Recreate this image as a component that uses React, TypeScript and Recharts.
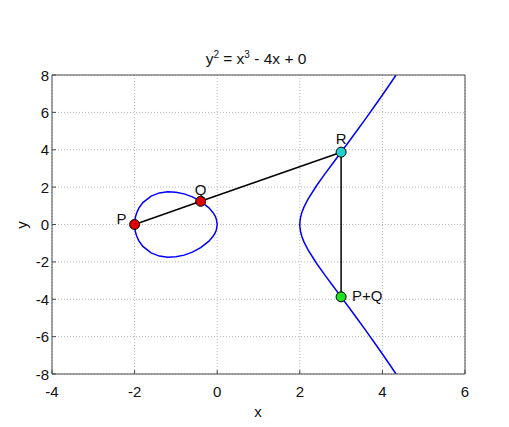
import React from 'react';
import {
  ComposedChart,
  Line,
  Scatter,
  XAxis,
  YAxis,
  CartesianGrid,
} from 'recharts';

// values
const xTicks = [-4, -2, 0, 2, 4, 6];
const yTicks = [-8, -6, -4, -2, 0, 2, 4, 6, 8];

// closed oval between x = -2 and x = 0 (upper half, then lower half back)
const ovalX = [-2, -1.99, -1.98, -1.95, -1.9, -1.8, -1.6, -1.4, -1.2, -1.0, -0.8, -0.6, -0.4, -0.2, -0.1, -0.05, -0.02, 0,
  -0.02, -0.05, -0.1, -0.2, -0.4, -0.6, -0.8, -1.0, -1.2, -1.4, -1.6, -1.8, -1.9, -1.95, -1.98, -1.99, -2];
const ovalY = [0, 0.28, 0.4, 0.62, 0.86, 1.17, 1.52, 1.69, 1.75, 1.73, 1.64, 1.48, 1.24, 0.89, 0.63, 0.45, 0.28, 0,
  -0.28, -0.45, -0.63, -0.89, -1.24, -1.48, -1.64, -1.73, -1.75, -1.69, -1.52, -1.17, -0.86, -0.62, -0.4, -0.28, 0];

// open branch starting at x = 2
const branchX = [4.33, 4.2, 4.0, 3.8, 3.6, 3.4, 3.2, 3.0, 2.8, 2.6, 2.4, 2.2, 2.1, 2.05, 2.02, 2.005, 2.0,
  2.005, 2.02, 2.05, 2.1, 2.2, 2.4, 2.6, 2.8, 3.0, 3.2, 3.4, 3.6, 3.8, 4.0, 4.2, 4.33];
const branchY = [-8, -7.57, -6.93, -6.3, -5.68, -5.07, -4.47, -3.87, -3.28, -2.68, -2.06, -1.36, -0.93, -0.64, -0.4, -0.2, 0,
  0.2, 0.4, 0.64, 0.93, 1.36, 2.06, 2.68, 3.28, 3.87, 4.47, 5.07, 5.68, 6.3, 6.93, 7.57, 8];

// secant through P and Q, then the reflection from R to P+Q
const chordX = [-2, -0.4, 3];
const chordY = [0, 1.24, 3.87];
const reflectX = [3, 3];
const reflectY = [3.87, -3.87];

const pointNames = ['P', 'Q', 'R', 'P+Q'];
const pointX = [-2, -0.4, 3, 3];
const pointY = [0, 1.24, 3.87, -3.87];

const toRows = (xs: number[], ys: number[]) => xs.map((x, i) => ({ x, y: ys[i] }));

const ovalData = toRows(ovalX, ovalY);
const branchData = toRows(branchX, branchY);
const chordData = toRows(chordX, chordY);
const reflectData = toRows(reflectX, reflectY);
const pointData = pointNames.map((name, i) => ({ name, x: pointX[i], y: pointY[i] }));

const FONT = '"Liberation Sans", Arial, Helvetica, sans-serif';
const AXIS_COLOR = '#4a4a4a';
const TICK_LEN = 4;

// marker fill and label placement per point
const markerStyle: Record<string, { fill: string; dx: number; dy: number; anchor: 'start' | 'middle' | 'end' }> = {
  P: { fill: '#e00000', dx: -8, dy: -6, anchor: 'end' },
  Q: { fill: '#e00000', dx: 0, dy: -12, anchor: 'middle' },
  R: { fill: '#20d0d0', dx: 0, dy: -14, anchor: 'middle' },
  'P+Q': { fill: '#20e020', dx: 11, dy: -1, anchor: 'start' },
};

function PointMarker(props: any) {
  const { cx, cy, payload } = props;
  const s = markerStyle[payload.name];
  return (
    <g>
      <circle cx={cx} cy={cy} r={5} fill={s.fill} stroke="#000" strokeWidth={1} />
      <text
        x={cx + s.dx}
        y={cy + s.dy}
        textAnchor={s.anchor}
        dominantBaseline="central"
        fontSize={15}
        fontFamily={FONT}
        fill="#111"
      >
        {payload.name}
      </text>
    </g>
  );
}

// MATLAB style: tick marks point into the plot, labels stay outside
function BottomTick(props: any) {
  const { x, y, payload } = props;
  return (
    <g>
      <line x1={x} y1={y} x2={x} y2={y - TICK_LEN} stroke={AXIS_COLOR} />
      <text x={x} y={y + 23} textAnchor="middle" fontSize={15} fontFamily={FONT} fill="#111">
        {payload.value}
      </text>
    </g>
  );
}

function LeftTick(props: any) {
  const { x, y, payload } = props;
  return (
    <g>
      <line x1={x} y1={y} x2={x + TICK_LEN} y2={y} stroke={AXIS_COLOR} />
      <text x={x - 3} y={y} textAnchor="end" dominantBaseline="central" fontSize={15} fontFamily={FONT} fill="#111">
        {payload.value}
      </text>
    </g>
  );
}

function TopTick(props: any) {
  const { x, y } = props;
  return <line x1={x} y1={y} x2={x} y2={y + TICK_LEN} stroke={AXIS_COLOR} />;
}

function RightTick(props: any) {
  const { x, y } = props;
  return <line x1={x} y1={y} x2={x - TICK_LEN} y2={y} stroke={AXIS_COLOR} />;
}

const axisLine = { stroke: AXIS_COLOR, strokeWidth: 1 };

export default function App() {
  return (
    <div style={{ position: 'absolute', left: 0, top: 0, width: 509, height: 427, background: '#fff', fontFamily: FONT }}>
      <div
        style={{
          position: 'absolute',
          left: 256,
          top: 46,
          transform: 'translateX(-50%)',
          fontSize: 15.5,
          whiteSpace: 'nowrap',
          color: '#111',
          lineHeight: '18px',
        }}
      >
        y<sup style={{ fontSize: 10, verticalAlign: '6px' }}>2</sup> = x<sup style={{ fontSize: 10, verticalAlign: '6px' }}>3</sup> - 4x + 0
      </div>
      <div
        style={{
          position: 'absolute',
          left: 258,
          top: 411,
          transform: 'translate(-50%, -50%)',
          fontSize: 15,
          color: '#111',
        }}
      >
        x
      </div>
      <div
        style={{
          position: 'absolute',
          left: 21,
          top: 225,
          transform: 'translate(-50%, -50%) rotate(-90deg)',
          fontSize: 15,
          color: '#111',
        }}
      >
        y
      </div>
      <ComposedChart
        width={509}
        height={427}
        margin={{ top: 74, right: 43, bottom: 8, left: 12 }}
        style={{ position: 'absolute', left: 0, top: 0 }}
      >
        <CartesianGrid stroke="#b8b8b8" strokeDasharray="1 2" />
        <XAxis
          dataKey="x"
          type="number"
          domain={[-4, 6]}
          ticks={xTicks}
          allowDataOverflow
          height={45}
          axisLine={axisLine}
          tickLine={false}
          tickSize={0}
          tickMargin={0}
          tick={<BottomTick />}
        />
        <XAxis
          xAxisId="top"
          orientation="top"
          dataKey="x"
          type="number"
          domain={[-4, 6]}
          ticks={xTicks}
          height={1}
          axisLine={axisLine}
          tickLine={false}
          tickSize={0}
          tickMargin={0}
          tick={<TopTick />}
        />
        <YAxis
          dataKey="y"
          type="number"
          domain={[-8, 8]}
          ticks={yTicks}
          allowDataOverflow
          width={40}
          axisLine={axisLine}
          tickLine={false}
          tickSize={0}
          tickMargin={0}
          tick={<LeftTick />}
        />
        <YAxis
          yAxisId="right"
          orientation="right"
          dataKey="y"
          type="number"
          domain={[-8, 8]}
          ticks={yTicks}
          width={1}
          axisLine={axisLine}
          tickLine={false}
          tickSize={0}
          tickMargin={0}
          tick={<RightTick />}
        />
        <Line data={ovalData} dataKey="y" type="linear" stroke="#0000ff" strokeWidth={1.5} dot={false} activeDot={false} isAnimationActive={false} />
        <Line data={branchData} dataKey="y" type="linear" stroke="#0000ff" strokeWidth={1.5} dot={false} activeDot={false} isAnimationActive={false} />
        <Line data={chordData} dataKey="y" type="linear" stroke="#000" strokeWidth={1.5} dot={false} activeDot={false} isAnimationActive={false} />
        <Line data={reflectData} dataKey="y" type="linear" stroke="#000" strokeWidth={1.5} dot={false} activeDot={false} isAnimationActive={false} />
        <Scatter data={pointData} dataKey="y" shape={PointMarker} isAnimationActive={false} />
      </ComposedChart>
    </div>
  );
}
